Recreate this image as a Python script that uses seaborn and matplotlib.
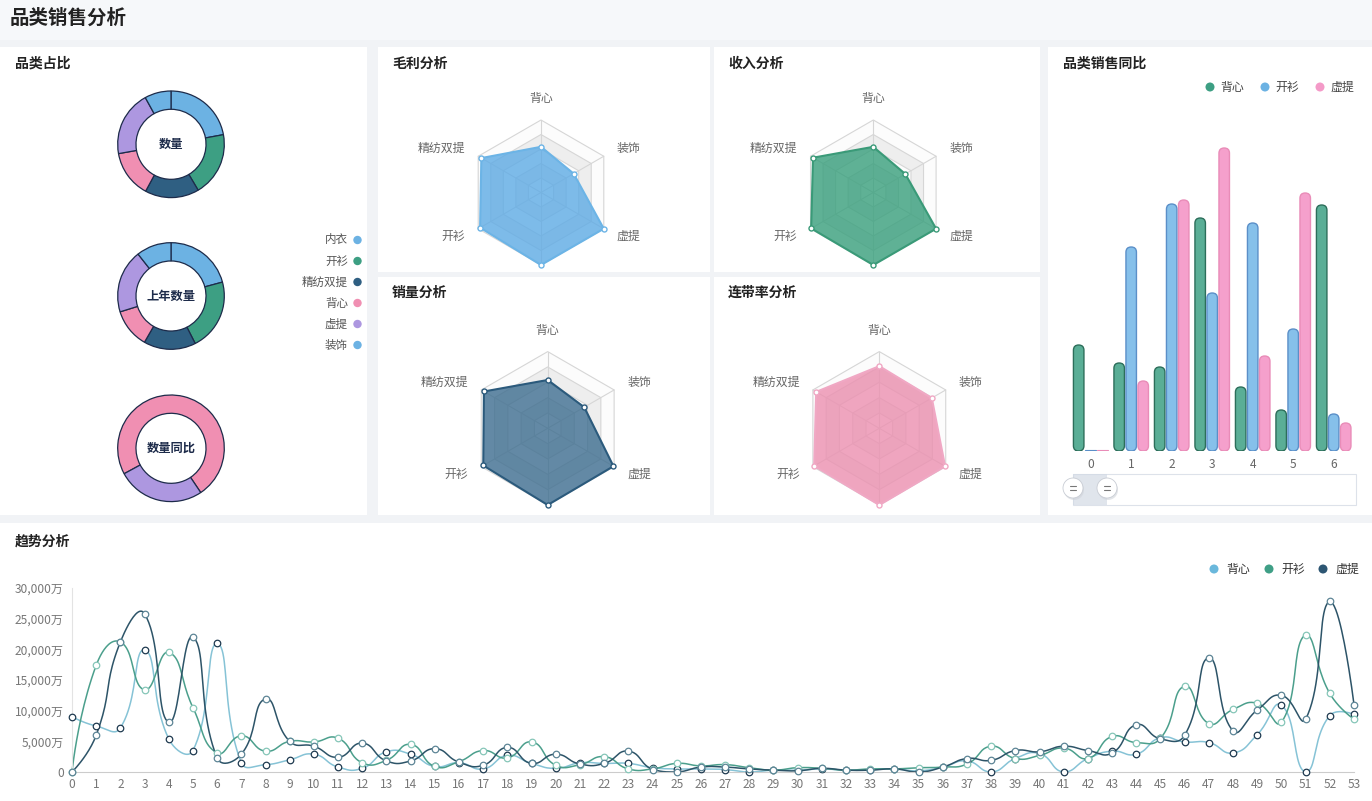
import numpy as np
import pandas as pd
import matplotlib
matplotlib.use("Agg")
import matplotlib.pyplot as plt
import matplotlib.colors as mcolors
from matplotlib.patches import Rectangle, FancyBboxPatch, Polygon, Circle
import seaborn as sns

# ---------------- data ----------------
pie_cats = ['内衣', '开衫', '精纺双提', '背心', '虚提', '装饰']
pie_colors = ['#6cb2e3', '#3d9f83', '#2f5f82', '#f08fb2', '#ad97e0', '#6cb2e3']
qty = [22.1, 19.4, 16.4, 14.3, 19.8, 8.0]
qty_last = [20.8, 21.7, 15.8, 11.9, 19.2, 10.6]
qty_yoy_cats = ['背心', '虚提']
qty_yoy = [73.5, 26.5]

radar_cats = ['背心', '装饰', '虚提', '内衣', '开衫', '精纺双提']
margin_vals = [0.63, 0.52, 1.0, 1.0, 0.97, 0.95]
income_vals = [0.63, 0.51, 1.0, 1.0, 0.99, 0.96]
sales_vals = [0.63, 0.55, 0.99, 1.0, 0.97, 0.96]
attach_vals = [0.81, 0.79, 0.99, 1.0, 0.98, 0.95]

bar_x = ['0', '1', '2', '3', '4', '5', '6']
bar_beixin = [106, 88, 84, 233, 64, 41, 246]
bar_kaishan = [1.5, 204, 247, 158, 228, 122, 37]
bar_xuti = [1.5, 70, 251, 303, 95, 258, 28]

weeks = list(range(54))
trend_beixin = [9000, 7500, 7200, 19900, 5400, 3500, 21000, 1500, 1200, 2000,
                2900, 800, 600, 3300, 2900, 900, 1500, 500, 2700, 1400,
                600, 1500, 1400, 1400, 700, 500, 500, 400, 0, 300,
                300, 500, 300, 400, 500, 200, 800, 1800, 0, 2200,
                3000, 0, 2200, 3400, 2900, 5600, 4900, 4800, 3100, 6100,
                10900, 0, 9200, 9400]
trend_kaishan = [0, 17400, 21200, 13400, 19500, 10500, 3100, 5900, 3400, 5000,
                 4900, 5500, 1500, 1900, 4500, 900, 1700, 3500, 2300, 4900,
                 1100, 1200, 2500, 500, 500, 1400, 1000, 1200, 700, 300,
                 700, 600, 300, 500, 500, 700, 800, 1300, 4200, 2200,
                 2700, 3900, 2200, 5800, 4800, 5500, 14000, 7900, 10200, 11200,
                 8100, 22400, 12800, 8600]
trend_xuti = [0, 6000, 21200, 25800, 8100, 22000, 2300, 2900, 11900, 5000,
              4200, 2400, 4700, 1800, 1800, 3800, 1600, 1100, 4000, 1400,
              2900, 1300, 1400, 3400, 400, 0, 800, 800, 500, 300,
              200, 600, 300, 300, 500, 0, 800, 2200, 1900, 3500,
              3300, 4200, 3500, 3100, 7700, 5400, 6000, 18600, 6700, 10100,
              12500, 8600, 27800, 11000]

# ---------------- setup ----------------
sns.set_style("white")
plt.rcParams['font.family'] = ['Noto Sans CJK SC', 'DejaVu Sans']

W, H = 1372, 801
fig = plt.figure(figsize=(W / 100, H / 100), dpi=100)
fig.patch.set_facecolor('#f1f3f6')


def rect(x, y, w, h):
    return [x / W, 1 - (y + h) / H, w / W, h / H]


bg = fig.add_axes([0, 0, 1, 1])
bg.set_xlim(0, W)
bg.set_ylim(H, 0)
bg.axis('off')

# cards
bg.add_patch(Rectangle((0, 0), W, 40, facecolor='#f6f8fa', edgecolor='none'))
cards = [(0, 47, 367, 468), (378, 47, 332, 225), (714, 47, 326, 225),
         (378, 277, 332, 238), (714, 277, 326, 238), (1048, 47, 324, 468),
         (0, 523, 1372, 278)]
for cx, cy, cw, ch in cards:
    bg.add_patch(Rectangle((cx, cy), cw, ch, facecolor='white', edgecolor='none'))

bg.text(10, 18, '品类销售分析', fontsize=14, fontweight='bold', color='#222222', va='center')
titles = [(15, 64, '品类占比'), (392, 64, '毛利分析'), (728, 64, '收入分析'),
          (1063, 64, '品类销售同比'), (392, 293, '销量分析'), (728, 293, '连带率分析'),
          (15, 542, '趋势分析')]
for tx, ty, t in titles:
    bg.text(tx, ty, t, fontsize=10, fontweight='bold', color='#222222', va='center')

# ---------------- donuts ----------------
R = 53.3
side = 124
L = (side / 2) / R


def donut(cy, vals, cols, label, start=90):
    ax = fig.add_axes(rect(171 - side / 2, cy - side / 2, side, side))
    ax.pie(vals, colors=cols, startangle=start, counterclock=False, radius=1,
           wedgeprops=dict(width=0.343, edgecolor='#1d2b4a', linewidth=0.9))
    ax.set_xlim(-L, L)
    ax.set_ylim(-L, L)
    ax.set_aspect('equal')
    ax.axis('off')
    ax.text(0, 0, label, ha='center', va='center', fontsize=8.8,
            fontweight='bold', color='#1d2b4a')


donut(144.3, qty, pie_colors, '数量')
donut(296, qty_last, pie_colors, '上年数量')
donut(448.3, qty_yoy, ['#f08fb2', '#ad97e0'], '数量同比', start=90 - 241.5)

for i, (c, col) in enumerate(zip(pie_cats, pie_colors)):
    yy = 240 + 21 * i
    bg.text(348, yy, c, ha='right', va='center', fontsize=8.3, color='#555555')
    bg.add_patch(Circle((357.5, yy), 4.2, facecolor=col, edgecolor='none'))

# ---------------- radars ----------------
ang = np.deg2rad(np.arange(6) * 60)
ux, uy = np.sin(ang), -np.cos(ang)


def radar(cx, cy, r, vals, fill, edge):
    for k in range(5, 0, -1):
        rr = r * k / 5
        fc = '#eeeeee' if k in (2, 4) else '#fcfcfc'
        bg.add_patch(Polygon(np.c_[cx + rr * ux, cy + rr * uy], closed=True,
                             facecolor=fc, edgecolor='#d6d6d6', lw=0.8, zorder=2))
    for j in range(6):
        bg.plot([cx, cx + r * ux[j]], [cy, cy + r * uy[j]], color='#d6d6d6', lw=0.8, zorder=2)
    v = np.array(vals)
    px, py = cx + r * v * ux, cy + r * v * uy
    bg.add_patch(Polygon(np.c_[px, py], closed=True, facecolor=fill, alpha=0.8,
                         edgecolor='none', zorder=3))
    bg.add_patch(Polygon(np.c_[px, py], closed=True, facecolor='none',
                         edgecolor=edge, lw=1.5, zorder=4))
    bg.scatter(px, py, s=13, facecolor='white', edgecolor=edge, lw=1, zorder=5)
    for j, name in enumerate(radar_cats):
        if j == 3:
            continue  # bottom axis name is cut off in the original card
        lx, ly = cx + (r + 15) * ux[j], cy + (r + 15) * uy[j]
        if j == 0:
            ha, va = 'center', 'bottom'
        elif j in (1, 2):
            ha, va = 'left', 'center'
        else:
            ha, va = 'right', 'center'
        bg.text(lx, ly, name, ha=ha, va=va, fontsize=8.6, color='#666666', zorder=5)


radar(541, 192.5, 72.5, margin_vals, '#5eabe5', '#6cb4e6')
radar(873.3, 192.5, 72.5, income_vals, '#389f7c', '#3a9a78')
radar(547.7, 428.3, 76.7, sales_vals, '#3d6d8f', '#2b5a7c')
radar(879.3, 428.3, 76.7, attach_vals, '#ec90b0', '#f0a8c4')

# ---------------- grouped bars ----------------
bar_fill = {'背心': '#5aae96', '开衫': '#86c0ea', '虚提': '#f5a0cc'}
bar_edge = {'背心': '#2c6e5a', '开衫': '#5b8fc8', '虚提': '#e98cb8'}
bar_df = pd.DataFrame({
    'x': bar_x * 3,
    'val': bar_beixin + bar_kaishan + bar_xuti,
    'cat': ['背心'] * 7 + ['开衫'] * 7 + ['虚提'] * 7,
})
step = 40.5
axb = fig.add_axes(rect(1090.7 - step / 2, 131, step * 7, 320))
sns.barplot(data=bar_df, x='x', y='val', hue='cat', palette=bar_fill,
            width=0.89, saturation=1, ax=axb, legend=False)
axb.set_xlim(-0.5, 6.5)
axb.set_ylim(0, 320)
hex2cat = {mcolors.to_hex(v): k for k, v in bar_fill.items()}
bw = 10.5 / step
for p in list(axb.patches):
    h = p.get_height()
    if np.isnan(h):
        continue
    cat = hex2cat.get(mcolors.to_hex(p.get_facecolor()))
    if cat is None:
        continue
    xc = p.get_x() + p.get_width() / 2
    p.set_visible(False)
    if h < 10:
        axb.add_patch(Rectangle((xc - bw / 2, 0), bw, h, facecolor=bar_fill[cat],
                                edgecolor=bar_edge[cat], lw=0.8))
    else:
        axb.add_patch(FancyBboxPatch((xc - bw / 2, 0), bw, h,
                                     boxstyle=f"round,pad=0,rounding_size={bw / 2}",
                                     mutation_aspect=step, facecolor=bar_fill[cat],
                                     edgecolor=bar_edge[cat], lw=1))
axb.set_xlabel('')
axb.set_ylabel('')
axb.set_yticks([])
axb.tick_params(axis='x', length=0, pad=5, labelsize=8.6, labelcolor='#666666')
for s in axb.spines.values():
    s.set_visible(False)
axb.patch.set_alpha(0)

for cx, name, col in [(1210, '背心', '#3d9f83'), (1265, '开衫', '#6cb2e3'), (1320, '虚提', '#f49ac8')]:
    bg.add_patch(Circle((cx, 87), 4.5, facecolor=col, edgecolor='none', zorder=5))
    bg.text(cx + 10, 87, name, va='center', fontsize=8.6, color='#444444', zorder=5)

# data zoom slider
bg.add_patch(Rectangle((1073, 474), 283, 31, facecolor='white', edgecolor='#dde2ea', lw=0.8, zorder=3))
bg.add_patch(Rectangle((1073, 474), 34, 31, facecolor='#d3dae5', edgecolor='none', alpha=0.7, zorder=3))
for hx in (1073, 1107):
    bg.add_patch(Circle((hx + 1, 490), 10, facecolor='#d0d4da', edgecolor='none', alpha=0.6, zorder=4))
    bg.add_patch(Circle((hx, 488), 10, facecolor='white', edgecolor='#c8ccd4', lw=0.6, zorder=5))
    bg.plot([hx - 3, hx + 3], [486, 486], color='#777777', lw=0.8, zorder=6)
    bg.plot([hx - 3, hx + 3], [490, 490], color='#777777', lw=0.8, zorder=6)

# ---------------- trend lines ----------------
axt = fig.add_axes(rect(72, 588, 1282, 184))
axt.set_xlim(0, 53)
axt.set_ylim(0, 30000)
sx = 1282 / 53
sy = 184 / 30000


def smooth_curve(xs, ys, smooth=0.5, n=24):
    px = np.asarray(xs, float) * sx
    py = np.asarray(ys, float) * sy
    N = len(px)
    ymin, ymax = py.min(), py.max()
    cpn = np.c_[px, py].copy()
    cpp = np.c_[px, py].copy()
    for i in range(1, N - 1):
        vx, vy = px[i + 1] - px[i - 1], py[i + 1] - py[i - 1]
        d0 = np.hypot(px[i] - px[i - 1], py[i] - py[i - 1])
        d1 = np.hypot(px[i + 1] - px[i], py[i + 1] - py[i])
        ratio = d1 / (d0 + d1) if d0 + d1 > 0 else 0.5
        cpn[i] = [px[i] + vx * smooth * ratio, py[i] + vy * smooth * ratio]
        cpp[i] = [px[i] - vx * smooth * (1 - ratio), py[i] - vy * smooth * (1 - ratio)]
    cpn[:, 1] = np.clip(cpn[:, 1], ymin, ymax)
    cpp[:, 1] = np.clip(cpp[:, 1], ymin, ymax)
    t = np.linspace(0, 1, n)[:, None]
    out = []
    for i in range(N - 1):
        p0 = np.array([px[i], py[i]])
        p3 = np.array([px[i + 1], py[i + 1]])
        seg = ((1 - t) ** 3) * p0 + 3 * ((1 - t) ** 2) * t * cpn[i] \
            + 3 * (1 - t) * t ** 2 * cpp[i + 1] + t ** 3 * p3
        out.append(seg if i == 0 else seg[1:])
    out = np.vstack(out)
    return out[:, 0] / sx, out[:, 1] / sy


series = [
    ('背心', trend_beixin, '#86c3d6', '#1f3a50'),
    ('开衫', trend_kaishan, '#4b9f8c', '#86c6b8'),
    ('虚提', trend_xuti, '#2d5468', '#5d8596'),
]
for name, vals, lcol, mcol in series:
    cx_, cy_ = smooth_curve(weeks, vals)
    axt.plot(cx_, cy_, color=lcol, lw=1.1, clip_on=False, zorder=2)
for name, vals, lcol, mcol in series:
    sns.scatterplot(x=weeks, y=vals, ax=axt, s=22, color='white', edgecolor=mcol,
                    linewidth=0.9, zorder=3, clip_on=False)

yt = list(range(0, 30001, 5000))
axt.set_yticks(yt)
axt.set_yticklabels(['0' if v == 0 else f'{v:,}万' for v in yt])
axt.set_xticks(weeks)
axt.set_xticklabels([str(w) for w in weeks])
axt.tick_params(axis='both', length=0, labelsize=8.6, labelcolor='#777777')
axt.tick_params(axis='y', pad=6)
axt.tick_params(axis='x', pad=4)
axt.spines['top'].set_visible(False)
axt.spines['right'].set_visible(False)
axt.spines['left'].set_color('#e3e3e3')
axt.spines['bottom'].set_color('#cccccc')
axt.patch.set_alpha(0)
axt.set_xlabel('')
axt.set_ylabel('')

for cx, name, col in [(1214, '背心', '#6ab8dc'), (1269, '开衫', '#3f9f86'), (1323, '虚提', '#2d5673')]:
    bg.add_patch(Circle((cx, 569), 4.5, facecolor=col, edgecolor='none', zorder=5))
    bg.text(cx + 12, 569, name, va='center', fontsize=8.6, color='#333333', zorder=5)

fig.savefig('out.png', dpi=100, facecolor=fig.get_facecolor())
